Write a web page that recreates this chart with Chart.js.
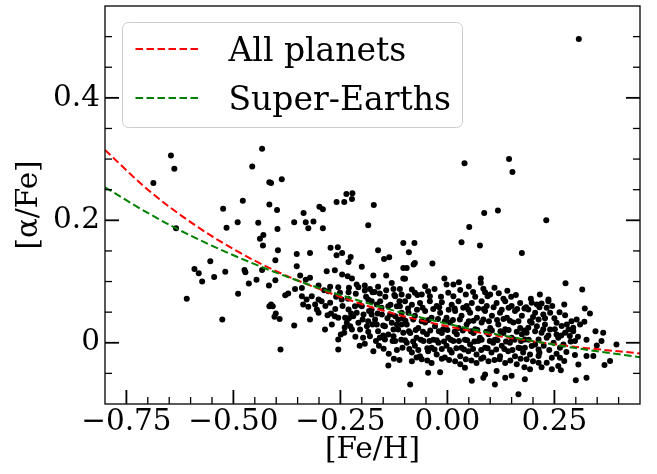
<!DOCTYPE html>
<html><head><meta charset="utf-8">
<script src="https://cdn.jsdelivr.net/npm/chart.js@4/dist/chart.umd.min.js"></script>
<style>html,body{margin:0;padding:0;background:#fff}#wrap{width:657px;height:474px;position:relative}</style>
</head><body><div id="wrap"><canvas id="c" width="657" height="474"></canvas></div>
<script>
// ---------- tick definitions ----------
const xTickValues = [-0.75, -0.5, -0.25, 0, 0.25];
const xTickLabels = ['\u22120.75', '\u22120.50', '\u22120.25', '0.00', '0.25'];
const xMinorValues = [-0.7, -0.65, -0.6, -0.55, -0.45, -0.4, -0.35, -0.3, -0.2, -0.15, -0.1, -0.05, 0.05, 0.1, 0.15, 0.2, 0.3, 0.35, 0.4];
const yTickValues = [0, 0.2, 0.4];
const yTickLabels = ['0', '0.2', '0.4'];
const yMinorValues = [-0.05, 0.05, 0.1, 0.15, 0.25, 0.3, 0.35, 0.45, 0.5];

// ---------- fitted trend curves ----------
const curveFeH       = [-0.8, -0.7, -0.6, -0.5, -0.4, -0.3, -0.2, -0.1, 0, 0.1, 0.2, 0.3, 0.45];
const allPlanetsFit  = [0.315, 0.250, 0.197, 0.153, 0.117, 0.088, 0.063, 0.043, 0.027, 0.0135, 0.0024, -0.0067, -0.0174];
const superEarthsFit = [0.254, 0.212, 0.175, 0.143, 0.1145, 0.0894, 0.0674, 0.048, 0.031, 0.016, 0.0029, -0.0087, -0.0236];

// ---------- individual stars ----------
const starFeH = [
 0.307,0.040,0.144,0.152,0.086,0.118,0.051,0.231,-0.185,-0.172,-0.259,-0.241,-0.236,-0.222,-0.223,
 -0.687,-0.646,-0.638,-0.524,-0.516,-0.490,-0.478,-0.456,-0.433,-0.442,-0.430,-0.416,-0.412,-0.387,-0.416,
 -0.398,-0.397,-0.358,-0.336,-0.331,-0.325,-0.313,-0.299,-0.291,-0.291,-0.634,
 -0.438,-0.431,-0.396,-0.402,-0.554,-0.591,-0.581,-0.573,-0.545,-0.519,-0.474,-0.472,-0.433,-0.446,-0.464,
 -0.417,-0.402,-0.379,-0.609,-0.489,-0.416,-0.408,-0.412,-0.401,-0.404,-0.392,-0.526,-0.390,-0.352,
 -0.103,-0.273,-0.256,-0.259,-0.246,-0.226,-0.231,-0.200,-0.162,-0.148,-0.136,-0.321,-0.352,-0.282,-0.263,
 -0.246,-0.233,-0.223,-0.173,-0.143,-0.103,-0.103,-0.344,-0.331,-0.321,-0.356,-0.340,-0.301,-0.288,-0.274,
 -0.255,-0.251,-0.231,-0.208,-0.193,-0.193,-0.181,-0.175,-0.162,-0.158,-0.143,-0.130,-0.126,-0.111,-0.107,
 -0.372,-0.340,-0.317,-0.278,-0.122,
 -0.358,-0.321,-0.286,-0.255,-0.255,-0.249,-0.241,-0.193,-0.173,-0.149,-0.138,-0.125,-0.105,-0.337,-0.325,
 -0.329,-0.309,-0.305,-0.301,-0.294,-0.274,-0.272,-0.263,-0.255,-0.270,-0.247,-0.239,-0.235,-0.227,-0.223,
 -0.216,-0.212,-0.208,-0.204,-0.196,-0.188,-0.181,-0.177,-0.165,-0.162,-0.158,-0.146,-0.185,-0.177,-0.146,
 -0.130,-0.126,-0.122,-0.115,-0.115,-0.107,-0.103,-0.177,-0.153,-0.138,-0.118,-0.301,
 -0.200,-0.165,-0.154,-0.134,-0.122,-0.111,-0.107,-0.126,-0.138,-0.169,-0.185,-0.220,-0.231,
 -0.099,-0.083,-0.064,-0.041,-0.025,-0.013,0.010,0.026,0.045,0.057,0.080,0.092,0.115,0.135,0.150,0.170,
 -0.091,-0.076,-0.052,-0.037,-0.017,-0.002,0.018,0.033,0.053,0.069,0.088,0.104,0.123,0.139,0.158,0.174,
 -0.095,-0.068,-0.052,-0.029,-0.010,0.006,0.026,0.045,0.065,0.080,0.100,0.119,0.135,0.154,0.170,
 -0.087,-0.072,-0.048,-0.033,-0.013,0.002,0.022,0.041,0.061,0.076,0.096,0.111,0.131,0.150,0.174,
 -0.095,-0.076,-0.056,-0.037,-0.021,-0.002,0.014,0.033,0.053,0.072,0.088,0.107,0.127,0.146,0.166,
 -0.083,-0.064,-0.045,-0.025,-0.006,0.010,0.030,0.049,0.068,0.084,0.103,0.123,0.142,0.158,0.177,
 -0.083,-0.072,-0.037,0.018,0.030,0.068,0.096,0.135,0.162,
 -0.045,-0.017,-0.087,0.057,0.088,0.084,0.115,0.111,0.135,0.150,0.166,0.041,
 0.033,0.076,0.174,-0.077,-0.090,-0.035,-0.079,-0.076,-0.095,-0.099,-0.007,-0.002,0.014,0.027,0.078,
 0.078,0.084,0.088,0.043,0.065,0.094,0.131,0.149,0.002,0.014,-0.083,-0.076,-0.052,-0.045,-0.060,-0.041,-0.091,
 0.276,0.315,0.216,0.195,0.236,
 0.236,0.273,0.321,0.333,0.302,0.320,0.346,0.364,0.395,0.360,0.349,0.325,0.341,0.380,0.367,0.306,0.325,0.300,
 0.273,0.263,0.259,0.244,0.232,0.213,0.213,0.215,0.193,0.193,0.181,0.185,0.181,0.181,
 0.197,0.209,0.220,0.232,0.189,0.205,0.224,0.240,0.255,0.213,0.197,0.228,0.189,0.205,0.220,0.240,0.255,0.267,
 0.279,0.275,0.286,0.294,0.298,0.259,0.232,0.213,0.248,0.271,0.294,0.283,0.185,0.213,0.244,0.263,0.197,
 // denser core, between the rows above
 -0.092,-0.071,-0.058,-0.033,-0.019,0.003,0.017,0.037,0.049,0.072,0.085,0.108,0.127,0.143,0.163,0.180,
 -0.098,-0.080,-0.060,-0.044,-0.022,-0.006,0.013,0.029,0.050,0.061,0.084,0.097,0.116,0.131,0.146,0.166,
 -0.090,-0.074,-0.057,-0.040,-0.020,0.000,0.017,0.036,0.055,0.070,0.091,0.104,0.124,0.143,0.162,0.180,
 -0.099,-0.080,-0.062,-0.042,-0.025,-0.008,0.008,0.027,0.046,0.063,0.080,0.099,0.117,0.137,0.157,0.172,
 -0.089,-0.068,-0.047,-0.030,-0.013,0.006,0.021,0.039,0.060,0.079,0.094,0.114,0.133,0.152,0.170,
 -0.060,-0.047,-0.013,0.004,0.043,0.056,0.079,0.110,0.122,0.147,0.171,
 -0.070,-0.030,-0.015,0.030,0.050,0.060,0.100,0.110,0.120,0.140,0.160,
 -0.245,-0.232,-0.225,-0.214,-0.205,-0.198,-0.190,-0.183,-0.175,-0.170,-0.163,-0.157,-0.150,-0.145,-0.140,
 -0.133,-0.128,-0.124,-0.118,-0.112,-0.108,-0.104,-0.215,-0.197,-0.185,-0.167,-0.160,-0.150,-0.137,-0.118,
 -0.112,-0.205,-0.230,-0.240,-0.262,-0.280,-0.285,-0.260,-0.230,-0.212,
 0.184,0.200,0.215,0.228,0.245,0.250,0.262,0.275,0.290,0.310,0.193,0.209,0.224,0.236,0.251,
 0.266,0.288,0.305,0.325,0.190,0.205,0.225,0.238,0.255,0.278,0.298,0.200,0.220,0.180,0.265
];
const starAlphaFe = [
 0.496,0.293,0.300,0.279,0.212,0.216,0.189,0.200,0.192,0.225,0.230,0.230,0.243,0.244,0.235,
 0.261,0.306,0.284,0.219,0.188,0.197,0.232,0.288,0.317,0.196,0.176,0.262,0.261,0.267,0.226,
 0.217,0.186,0.197,0.212,0.197,0.187,0.198,0.222,0.218,0.187,0.187,
 0.170,0.159,0.151,0.1346,0.133,0.1206,0.1135,0.0999,0.1075,0.116,0.119,0.115,0.119,0.103,0.0967,
 0.0934,0.102,0.0776,0.0717,0.0799,0.0597,0.0597,0.0624,0.0478,0.0424,0.039,0.038,-0.011,0.145,
 0.163,0.155,0.156,0.1428,0.1467,0.140,0.132,0.124,0.151,0.137,0.1396,0.1467,0.125,0.1167,0.1184,
 0.1113,0.1086,0.1048,0.110,0.110,0.122,0.1048,0.1097,0.103,0.106,0.088,0.0896,0.0934,0.0857,0.0913,
 0.0906,0.0815,0.0825,0.0906,0.0934,0.0852,0.088,0.0825,0.0913,0.0804,0.0857,0.0978,0.088,0.088,0.0787,
 0.0804,0.076,0.076,0.084,0.076,
 0.0282,0.038,0.0217,-0.011,0.0054,0.0135,0.0163,-0.0016,-0.0137,-0.0098,-0.037,-0.026,-0.008,0.0624,0.0587,
 0.0706,0.0624,0.0543,0.0489,0.0678,0.0652,0.0478,0.0434,0.0407,0.0298,0.0706,0.0407,0.0326,0.0271,0.0217,
 0.0597,0.0489,0.0326,0.0217,0.0461,0.0271,0.0108,0.0543,0.0298,0.019,0.0082,0.0054,0.0706,0.0678,0.0271,
 0.0326,0.0108,0.0027,0.0217,0.038,0.0489,0.0163,0.0461,0.0461,0.0597,0.0597,0.0706,
 0.0597,0.0624,0.0570,0.0462,0.0435,0.0597,0.0299,0.0217,0.0136,0.0380,0.0353,0.0435,0.0543,
 0.068,0.062,0.065,0.068,0.060,0.066,0.062,0.068,0.060,0.065,0.068,0.060,0.065,0.068,0.060,0.065,
 0.049,0.044,0.052,0.041,0.049,0.041,0.052,0.044,0.049,0.041,0.052,0.044,0.049,0.041,0.052,0.044,
 0.030,0.024,0.033,0.027,0.022,0.033,0.024,0.030,0.022,0.033,0.024,0.030,0.022,0.033,0.024,
 0.016,0.008,0.014,0.005,0.016,0.008,0.014,0.005,0.016,0.008,0.014,0.005,0.016,0.008,0.014,
 0.000,-0.005,0.003,-0.008,0.000,-0.005,0.003,-0.008,-0.003,0.003,-0.008,0.000,-0.005,0.000,-0.008,
 -0.016,-0.022,-0.014,-0.019,-0.024,-0.016,-0.022,-0.014,-0.019,-0.024,-0.016,-0.022,-0.014,-0.022,-0.016,
 -0.030,-0.024,-0.033,-0.030,-0.035,-0.033,-0.030,-0.033,-0.035,
 -0.049,-0.048,-0.068,-0.062,-0.052,-0.057,-0.046,-0.068,-0.057,-0.054,-0.084,-0.041,
 0.1641,0.1587,0.1467,0.1630,0.1478,0.1293,0.1277,0.1304,0.1223,0.1044,0.1049,0.0951,0.0951,0.0989,0.1049,
 0.0979,0.0881,0.0826,0.0788,0.0750,0.0761,0.0718,0.0750,0.0815,0.0761,0.0870,0.0815,0.0924,0.0843,0.0788,0.0761,0.0761,
 0.0973,0.0870,0.0788,0.0718,0.0707,
 0.0679,0.0624,0.0559,0.0478,0.0380,0.0342,0.0190,0.0163,-0.0027,0.0027,-0.0043,-0.0217,-0.0217,-0.0299,-0.0364,-0.0353,-0.0570,-0.0613,
 -0.0299,-0.0244,-0.0380,-0.0434,-0.0326,-0.0326,-0.0217,-0.0163,-0.0190,-0.0434,-0.0597,-0.0271,-0.0081,0.0054,
 0.0652,0.0624,0.0641,0.0570,0.0543,0.0489,0.0462,0.0489,0.0326,0.0380,0.0326,0.0299,0.0244,0.0190,0.0163,0.0217,0.0136,0.0272,
 0.0299,0.0163,0.0109,0.0190,0.0027,0.0082,0.0082,0.0054,0.0000,-0.0027,0.0244,0.0217,0.0163,-0.0109,-0.0244,-0.0081,-0.0054,
 0.056,0.054,0.057,0.055,0.058,0.054,0.056,0.057,0.054,0.056,0.055,0.058,0.054,0.057,0.055,0.056,
 0.036,0.038,0.035,0.037,0.039,0.035,0.037,0.038,0.035,0.036,0.038,0.035,0.037,0.039,0.036,0.035,
 0.019,0.021,0.018,0.020,0.019,0.021,0.018,0.020,0.019,0.021,0.018,0.020,0.019,0.021,0.018,0.020,
 0.004,0.002,0.005,0.003,0.004,0.002,0.005,0.003,0.004,0.002,0.005,0.003,0.004,0.002,0.005,0.003,
 -0.010,-0.012,-0.009,-0.011,-0.010,-0.012,-0.009,-0.011,-0.010,-0.012,-0.009,-0.011,-0.010,-0.012,-0.009,
 -0.027,-0.029,-0.026,-0.028,-0.027,-0.029,-0.026,-0.028,-0.027,-0.029,-0.026,
 0.078,0.088,0.075,0.086,0.092,0.083,0.079,0.090,0.081,0.085,0.078,
 0.060,0.072,0.048,0.080,0.062,0.038,0.075,0.052,0.030,0.083,0.048,0.068,0.028,0.075,0.040,
 0.062,0.003,0.078,0.030,0.068,0.005,0.040,0.010,0.008,0.018,0.003,-0.005,0.012,-0.018,-0.012,
 -0.028,-0.005,0.040,0.025,0.055,0.045,0.060,0.075,0.090,0.095,
 0.058,0.042,0.058,0.040,0.060,0.040,0.050,0.045,0.035,0.030,0.035,0.027,0.022,0.012,0.022,
 0.012,0.002,0.010,0.005,0.005,-0.003,-0.005,-0.012,-0.018,-0.015,-0.020,-0.030,-0.040,-0.040,-0.045
];

const FONT = 'DejaVu Serif';
const plotFrame = {
  id: 'plotFrame',
  afterDatasetsDraw(chart) {
    const {ctx, chartArea: a, scales: {x, y}} = chart;
    ctx.save();
    ctx.strokeStyle = '#000';
    ctx.setLineDash([]);
    ctx.lineWidth = 1.3;
    ctx.strokeRect(a.left, a.top, a.right - a.left, a.bottom - a.top);
    const tick = (x1, y1, x2, y2, w) => { ctx.lineWidth = w; ctx.beginPath(); ctx.moveTo(x1, y1); ctx.lineTo(x2, y2); ctx.stroke(); };
    xTickValues.forEach(v => { const p = x.getPixelForValue(v); tick(p, a.bottom, p, a.bottom - 14, 1.8); });
    xMinorValues.forEach(v => { const p = x.getPixelForValue(v); tick(p, a.bottom, p, a.bottom - 7, 1.3); });
    yTickValues.forEach(v => { const p = y.getPixelForValue(v); tick(a.left, p, a.left + 14, p, 1.8); tick(a.right, p, a.right - 14, p, 1.8); });
    yMinorValues.forEach(v => { const p = y.getPixelForValue(v); tick(a.left, p, a.left + 7, p, 1.3); tick(a.right, p, a.right - 7, p, 1.3); });
    ctx.restore();
  },
  afterDraw(chart) {
    const {ctx, chartArea: a} = chart;
    const bx = a.left + 17.5, by = a.top + 16.5, bw = 340, bh = 105, r = 6;
    ctx.save();
    ctx.beginPath();
    ctx.moveTo(bx + r, by);
    ctx.arcTo(bx + bw, by, bx + bw, by + bh, r);
    ctx.arcTo(bx + bw, by + bh, bx, by + bh, r);
    ctx.arcTo(bx, by + bh, bx, by, r);
    ctx.arcTo(bx, by, bx + bw, by, r);
    ctx.closePath();
    ctx.fillStyle = 'rgba(255,255,255,0.8)';
    ctx.fill();
    ctx.strokeStyle = '#cccccc';
    ctx.lineWidth = 1;
    ctx.stroke();
    const entries = chart.data.datasets.filter(d => d.inLegend);
    entries.forEach((d, i) => {
      const ly = by + 26.5 + i * 49;
      ctx.strokeStyle = d.borderColor;
      ctx.lineWidth = 2;
      ctx.setLineDash(d.borderDash);
      ctx.beginPath(); ctx.moveTo(bx + 13, ly); ctx.lineTo(bx + 79, ly); ctx.stroke();
      ctx.setLineDash([]);
      ctx.fillStyle = '#000';
      ctx.font = '33px "' + FONT + '"';
      ctx.textBaseline = 'alphabetic';
      ctx.textAlign = 'left';
      ctx.fillText(d.label, bx + 106, ly + 11.5);
    });
    ctx.restore();
  }
};

const curvePts = arr => curveFeH.map((v, i) => ({x: v, y: arr[i]}));
const starPts = starFeH.map((v, i) => ({x: v, y: starAlphaFe[i]}));

new Chart(document.getElementById('c'), {
  type: 'scatter',
  data: {
    datasets: [
      {label: 'All planets', inLegend: true, data: curvePts(allPlanetsFit), showLine: true, borderColor: '#ff0000', borderWidth: 2, borderDash: [7.5, 3.5], pointRadius: 0, cubicInterpolationMode: 'monotone', order: 2},
      {label: 'Super-Earths', inLegend: true, data: curvePts(superEarthsFit), showLine: true, borderColor: '#008000', borderWidth: 2, borderDash: [7.5, 3.5], pointRadius: 0, cubicInterpolationMode: 'monotone', order: 1},
      {label: 'stars', data: starPts, pointRadius: 3.0, backgroundColor: '#000', borderWidth: 0, order: 3}
    ]
  },
  options: {
    responsive: false, animation: false, devicePixelRatio: 1, events: [],
    layout: {padding: {top: 6, right: 17, left: 0, bottom: 0}},
    plugins: {legend: {display: false}, tooltip: {enabled: false}},
    scales: {
      x: {
        type: 'linear', min: -0.8, max: 0.45,
        afterBuildTicks: s => { s.ticks = xTickValues.map(v => ({value: v})); },
        afterFit: s => { s.height = 70; s.paddingLeft = 0; s.paddingRight = 0; },
        ticks: {callback: (v, i) => xTickLabels[i], font: {family: FONT, size: 29.5}, color: '#000', padding: 1, maxRotation: 0, autoSkip: false},
        grid: {display: false, drawTicks: false},
        border: {display: false},
        title: {display: true, text: '[Fe/H]', font: {family: FONT, size: 29.5}, color: '#000', padding: {top: 0, bottom: 6}}
      },
      y: {
        type: 'linear', min: -0.1, max: 0.55,
        afterBuildTicks: s => { s.ticks = yTickValues.map(v => ({value: v})); },
        afterFit: s => { s.width = 105; s.paddingTop = 0; s.paddingBottom = 0; },
        ticks: {callback: (v, i) => yTickLabels[i], font: {family: FONT, size: 29.5}, color: '#000', padding: 5, autoSkip: false},
        grid: {display: false, drawTicks: false},
        border: {display: false},
        title: {display: true, text: '[\u03b1/Fe]', font: {family: FONT, size: 29.5}, color: '#000', padding: {top: 12, bottom: 0}}
      }
    }
  },
  plugins: [plotFrame]
});
</script></body></html>
